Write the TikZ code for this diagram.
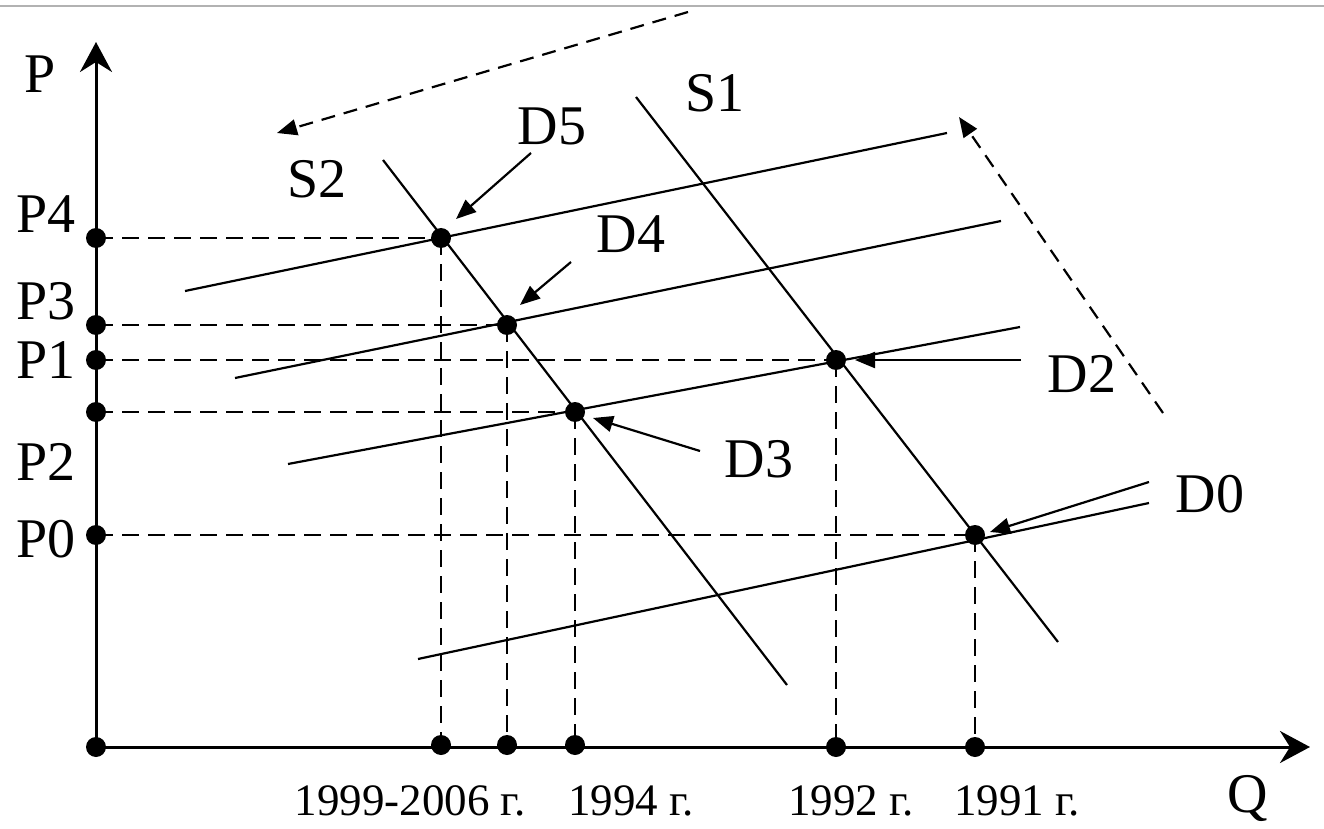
\documentclass[tikz,border=0pt]{standalone}
\usepackage{fontspec}
\setmainfont{Liberation Serif}
\usetikzlibrary{arrows.meta}
\begin{document}
\begin{tikzpicture}[x=0.5pt,y=-0.5pt,
 lbl/.style={inner sep=0, anchor=base, font=\fontsize{28}{30}\selectfont},
 yr/.style={inner sep=0, anchor=base, font=\fontsize{22.5}{25}\selectfont},
 axis/.style={line width=1.5pt, -{Stealth[length=15pt,width=16pt,inset=5pt]}},
 curve/.style={line width=1.1pt},
 guide/.style={line width=1.2pt, dash pattern=on 8.5pt off 4.5pt},
 ptr/.style={line width=1.1pt, -{Triangle[length=10pt,width=8pt]}},
 shiftarr/.style={line width=1.1pt, dash pattern=on 7pt off 4.5pt, -{Triangle[length=10pt,width=8pt]}},
 dot/.style={circle, fill=black, inner sep=0, minimum size=10pt}]
\useasboundingbox (0,0) rectangle (1324,829);
\fill[white] (0,0) rectangle (1324,829);
\draw[line width=1pt, gray!60] (0,6) -- (1324,6);

% axes
\coordinate (O) at (96,747);
\coordinate (Ytop) at (96,42);
\coordinate (Xend) at (1310,747);
\draw[axis] (O) -- (Ytop);
\draw[axis] (O) -- (Xend);

% intersection points
\coordinate (E5) at (441,238);
\coordinate (E4) at (507,325);
\coordinate (E3) at (575,412);
\coordinate (E2) at (836,360);
\coordinate (E0) at (975,535);

% axis points
\coordinate (y4) at (96,238);
\coordinate (y3) at (96,325);
\coordinate (y1) at (96,360);
\coordinate (y2) at (96,412);
\coordinate (y0) at (96,535);
\coordinate (x5) at (441,745);
\coordinate (x4) at (507,745);
\coordinate (x3) at (575,745);
\coordinate (x2) at (836,747);
\coordinate (x0) at (975,747);

% guides
\draw[guide] (y4) -- (E5) (E5) -- (x5);
\draw[guide] (y3) -- (E4) (E4) -- (x4);
\draw[guide] (y1) -- (E2) (E2) -- (x2);
\draw[guide] (y2) -- (E3) (E3) -- (x3);
\draw[guide] (y0) -- (E0) (E0) -- (x0);

% supply lines
\coordinate (S2a) at (383,160);
\coordinate (S2b) at (787,685);
\coordinate (S1a) at (636,97);
\coordinate (S1b) at (1058,642);
\draw[curve] (S2a) -- (S2b);
\draw[curve] (S1a) -- (S1b);

% demand lines
\coordinate (D5a) at (185,291);
\coordinate (D5b) at (947,133);
\coordinate (D4a) at (235,378);
\coordinate (D4b) at (1001,221);
\coordinate (D2a) at (288,464);
\coordinate (D2b) at (1020,327);
\coordinate (D0a) at (418,659);
\coordinate (D0b) at (1149,503);
\draw[curve] (D5a) -- (D5b);
\draw[curve] (D4a) -- (D4b);
\draw[curve] (D2a) -- (D2b);
\draw[curve] (D0a) -- (D0b);

% dots
\foreach \p in {E5,E4,E3,E2,E0,y4,y3,y1,y2,y0,x5,x4,x3,x2,x0,O}
  \node[dot] at (\p) {};

% labels
\node[lbl] (lP) at (40,93) {P};
\node[lbl] (lP4) at (46,233) {P4};
\node[lbl] (lP3) at (46,320) {P3};
\node[lbl] (lP1) at (46,378) {P1};
\node[lbl] (lP2) at (46,480) {P2};
\node[lbl] (lP0) at (46,557) {P0};
\node[lbl] (lQ) at (1248,812) {Q};
\node[lbl] (lS1) at (715,112) {S1};
\node[lbl] (lS2) at (317,198) {S2};
\node[lbl] (lD5) at (552,145) {D5};
\node[lbl] (lD4) at (631,253) {D4};
\node[lbl] (lD2) at (1082,392) {D2};
\node[lbl] (lD3) at (759,477) {D3};
\node[lbl] (lD0) at (1210,512) {D0};

\node[yr] (t1) at (410,815) {1999-2006 г.};
\node[yr] (t2) at (631,815) {1994 г.};
\node[yr] (t3) at (851,815) {1992 г.};
\node[yr] (t4) at (1017,815) {1991 г.};

% pointers
\coordinate (p5s) at (531,153);
\coordinate (p5e) at (456,219);
\coordinate (p4s) at (571,262);
\coordinate (p4e) at (520,305);
\coordinate (p3s) at (700,451);
\coordinate (p3e) at (593,418);
\coordinate (p2s) at (1021,360);
\coordinate (p2e) at (855,360);
\coordinate (p0s) at (1149,482);
\coordinate (p0e) at (990,532);
\draw[ptr] (p5s) -- (p5e);
\draw[ptr] (p4s) -- (p4e);
\draw[ptr] (p3s) -- (p3e);
\draw[ptr] (p2s) -- (p2e);
\draw[ptr] (p0s) -- (p0e);

% shift arrows
\coordinate (a1s) at (688,12);
\coordinate (a1e) at (277,133);
\coordinate (a2s) at (1163,413);
\coordinate (a2e) at (959,117);
\draw[shiftarr] (a1s) -- (a1e);
\draw[shiftarr] (a2s) -- (a2e);
\end{tikzpicture}
\end{document}
